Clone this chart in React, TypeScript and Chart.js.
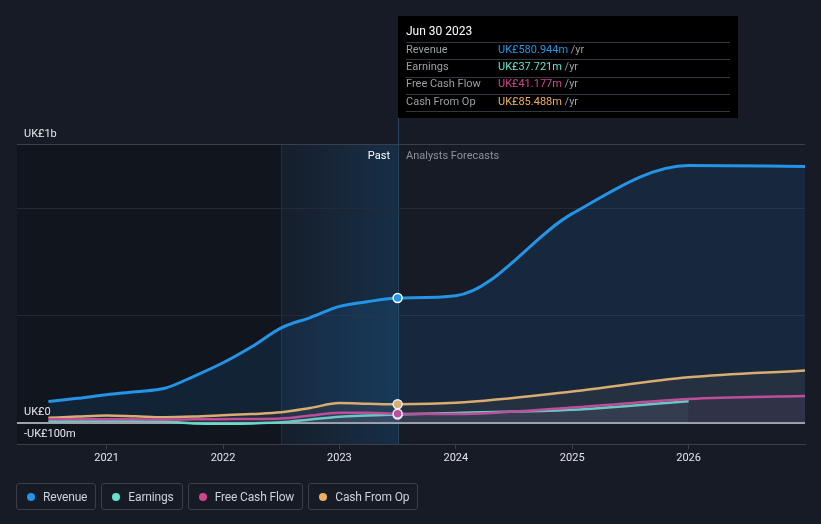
import React, { useEffect, useRef } from "react";
import { Chart, registerables } from "chart.js";

Chart.register(...registerables);

// ---- Data (values in UK£ millions, x as decimal year) ----
const revenueDates = [2020.5, 2020.75, 2021.0, 2021.25, 2021.5, 2021.75, 2022.0, 2022.25, 2022.5, 2022.75, 2023.0, 2023.25, 2023.5, 2024.0, 2025.0, 2026.0, 2027.0];
const revenueValues = [98, 113, 130, 144, 160, 216, 279, 355, 442, 490, 542, 565, 580.944, 592, 975, 1200, 1195];

const earningsDates = [2020.5, 2020.75, 2021.0, 2021.25, 2021.5, 2021.75, 2022.0, 2022.25, 2022.5, 2022.75, 2023.0, 2023.25, 2023.5, 2024.0, 2025.0, 2026.0];
const earningsValues = [6, 7, 9, 8, 6, -4, -5, -4, 1, 14, 27, 33, 37.721, 45, 60, 100];

const fcfDates = [2020.5, 2020.75, 2021.0, 2021.25, 2021.5, 2021.75, 2022.0, 2022.25, 2022.5, 2022.75, 2023.0, 2023.25, 2023.5, 2024.0, 2025.0, 2026.0, 2027.0];
const fcfValues = [15, 16, 16, 15, 14, 15, 16, 17, 19, 33, 46, 46, 41.177, 40, 70, 110, 124];

const cfoDates = [2020.5, 2020.75, 2021.0, 2021.25, 2021.5, 2021.75, 2022.0, 2022.25, 2022.5, 2022.75, 2023.0, 2023.25, 2023.5, 2024.0, 2025.0, 2026.0, 2027.0];
const cfoValues = [22, 28, 33, 29, 25, 28, 34, 40, 48, 68, 91, 88, 85.488, 92, 145, 211, 243];

const xTickValues = [2021, 2022, 2023, 2024, 2025, 2026];
const yTickValues = [-100, 0, 500, 1000, 1300];
const yTickLabels = ["-UK£100m", "UK£0", "", "", "UK£1b"];

const xMin = 2020.23;
const xMax = 2027.0;
const bandStart = 2022.5;
const pastEnd = 2023.5;

const tooltipTitle = "Jun 30 2023";
const tooltipLabels = ["Revenue", "Earnings", "Free Cash Flow", "Cash From Op"];
const tooltipValues = ["UK£580.944m", "UK£37.721m", "UK£41.177m", "UK£85.488m"];

const seriesNames = ["Revenue", "Earnings", "Free Cash Flow", "Cash From Op"];
const lineColors = ["#2394e6", "#5fe0c9", "#d0468e", "#f0b160"];
const valueColors = ["#2394e6", "#62e3cd", "#d0468e", "#eeae5f"];

const pts = (xs: number[], ys: number[]) => xs.map((x, i) => ({ x, y: ys[i] }));

const FONT = "Roboto, 'Noto Sans', sans-serif";

export default function App() {
  const ref = useRef<HTMLCanvasElement | null>(null);

  useEffect(() => {
    document.body.style.margin = "0";
    document.body.style.background = "#161b26";
    if (!ref.current) return;

    const decor = {
      id: "decor",
      beforeDraw(chart: any) {
        const { ctx, chartArea: a, scales } = chart;
        const x = scales.x;
        const xb = x.getPixelForValue(bandStart);
        const xe = x.getPixelForValue(pastEnd);
        ctx.save();
        ctx.fillStyle = "rgba(0,0,0,0.2)";
        ctx.fillRect(a.left, a.top, xb - a.left, a.bottom - a.top);
        const g = ctx.createLinearGradient(xb, 0, xe, 0);
        g.addColorStop(0, "rgba(33,150,243,0.03)");
        g.addColorStop(1, "rgba(33,150,243,0.16)");
        ctx.fillStyle = g;
        ctx.fillRect(xb, a.top, xe - xb, a.bottom - a.top);
        ctx.strokeStyle = "rgba(120,150,180,0.15)";
        ctx.lineWidth = 1;
        ctx.beginPath();
        ctx.moveTo(Math.round(xb) + 0.5, a.top);
        ctx.lineTo(Math.round(xb) + 0.5, a.bottom);
        ctx.stroke();
        ctx.strokeStyle = "#2a4560";
        ctx.beginPath();
        ctx.moveTo(Math.round(xe) + 0.5, 16);
        ctx.lineTo(Math.round(xe) + 0.5, a.bottom);
        ctx.stroke();
        ctx.restore();
      },
      afterDraw(chart: any) {
        const { ctx, chartArea: a, scales } = chart;
        const xe = Math.round(scales.x.getPixelForValue(pastEnd));
        ctx.save();
        ctx.font = `11px ${FONT}`;
        ctx.textBaseline = "middle";
        ctx.fillStyle = "#ffffff";
        ctx.textAlign = "right";
        ctx.fillText("Past", xe - 8, a.top + 12);
        ctx.fillStyle = "#8b9099";
        ctx.textAlign = "left";
        ctx.fillText("Analysts Forecasts", xe + 8, a.top + 12);

        // tooltip box
        const left = xe;
        const top = 16;
        const w = 340;
        const h = 102;
        ctx.fillStyle = "#000000";
        ctx.fillRect(left, top, w, h);
        ctx.fillStyle = "#ffffff";
        ctx.font = `12px ${FONT}`;
        ctx.fillText(tooltipTitle, left + 8, top + 15.5);
        ctx.strokeStyle = "#333740";
        ctx.lineWidth = 1;
        for (let i = 0; i < 5; i++) {
          const sy = Math.round(top + 26 + i * 17.3) + 0.5;
          ctx.beginPath();
          ctx.moveTo(left + 8, sy);
          ctx.lineTo(left + 332, sy);
          ctx.stroke();
        }
        ctx.font = `11px ${FONT}`;
        tooltipLabels.forEach((lab, i) => {
          const ry = top + 34 + i * 17.3;
          ctx.fillStyle = "#9a9fa6";
          ctx.fillText(lab, left + 8, ry);
          ctx.fillStyle = valueColors[i];
          ctx.fillText(tooltipValues[i], left + 100, ry);
          const vw = ctx.measureText(tooltipValues[i]).width;
          ctx.fillStyle = "#9a9fa6";
          ctx.fillText(" /yr", left + 100 + vw, ry);
        });
        ctx.restore();
      },
    };

    const marker = (ctx: any) => (ctx.raw && ctx.raw.x === pastEnd ? 4.5 : 0);

    const mk = (label: string, data: any[], color: string, fill: string, width: number) => ({
      label,
      data,
      borderColor: color,
      backgroundColor: fill,
      borderWidth: width,
      fill: "origin",
      cubicInterpolationMode: "monotone" as const,
      pointRadius: marker,
      pointHoverRadius: marker,
      pointBackgroundColor: color,
      pointBorderColor: "#ffffff",
      pointBorderWidth: 1.5,
    });

    const chart = new Chart(ref.current, {
      type: "line",
      data: {
        datasets: [
          mk(seriesNames[0], pts(revenueDates, revenueValues), lineColors[0], "rgba(33,150,243,0.11)", 3),
          mk(seriesNames[2], pts(fcfDates, fcfValues), lineColors[2], "rgba(214,63,140,0.08)", 2.5),
          mk(seriesNames[3], pts(cfoDates, cfoValues), lineColors[3], "rgba(240,177,96,0.07)", 2.5),
          mk(seriesNames[1], pts(earningsDates, earningsValues), lineColors[1], "rgba(95,224,201,0.08)", 2.5),
        ],
      },
      options: {
        animation: false,
        responsive: true,
        maintainAspectRatio: false,
        layout: { padding: { left: 17, right: 16, top: 144, bottom: 50 } },
        plugins: {
          legend: { display: false },
          tooltip: { enabled: false },
        },
        events: [],
        scales: {
          x: {
            type: "linear",
            min: xMin,
            max: xMax,
            afterBuildTicks: (s: any) => {
              s.ticks = xTickValues.map((v) => ({ value: v }));
            },
            afterFit: (s: any) => {
              s.height = 30;
            },
            ticks: {
              autoSkip: false,
              maxRotation: 0,
              padding: 3,
              color: "#e2e4e8",
              font: { family: FONT, size: 11 },
              callback: (v: any) => String(v),
            },
            grid: {
              drawOnChartArea: false,
              drawTicks: true,
              tickLength: 5,
              color: "#3a404b",
            },
            border: { display: true, color: "#3a404b", width: 1 },
          },
          y: {
            type: "linear",
            min: yTickValues[0],
            max: yTickValues[yTickValues.length - 1],
            afterBuildTicks: (s: any) => {
              s.ticks = yTickValues.map((v) => ({ value: v }));
            },
            afterFit: (s: any) => {
              s.width = 0;
            },
            ticks: {
              autoSkip: false,
              mirror: true,
              padding: 7,
              labelOffset: -10,
              color: "#e6e7ea",
              font: { family: FONT, size: 11 },
              callback: (v: any) => {
                const i = yTickValues.indexOf(Number(v));
                return i >= 0 ? yTickLabels[i] : "";
              },
            },
            grid: {
              drawTicks: false,
              color: (c: any) => {
                const v = c.tick && c.tick.value;
                if (v === 0) return "#9ea3aa";
                if (v === yTickValues[0]) return "rgba(0,0,0,0)";
                if (v === yTickValues[yTickValues.length - 1]) return "#3a404b";
                return "#252b36";
              },
              lineWidth: (c: any) => (c.tick && c.tick.value === 0 ? 2 : 1),
            },
            border: { display: false },
          },
        },
      },
      plugins: [decor],
    } as any);

    return () => chart.destroy();
  }, []);

  return (
    <div
      style={{
        position: "absolute",
        left: 0,
        top: 0,
        width: 821,
        height: 524,
        background: "#161b26",
        fontFamily: FONT,
        overflow: "hidden",
      }}
    >
      <canvas ref={ref} style={{ position: "absolute", left: 0, top: 0 }} />
      <div
        style={{
          position: "absolute",
          left: 16,
          top: 483,
          display: "flex",
          gap: 5,
        }}
      >
        {seriesNames.map((n, i) => (
          <div
            key={n}
            style={{
              height: 27,
              boxSizing: "border-box",
              border: "1px solid #3a3f4a",
              borderRadius: 3,
              display: "flex",
              alignItems: "center",
              padding: "0 8px 0 10px",
              color: "#cdd0d5",
              fontSize: 12,
              letterSpacing: -0.15,
            }}
          >
            <span
              style={{
                width: 8,
                height: 8,
                borderRadius: 4,
                background: valueColors[i],
                marginRight: 8,
                display: "inline-block",
              }}
            />
            {n}
          </div>
        ))}
      </div>
    </div>
  );
}
